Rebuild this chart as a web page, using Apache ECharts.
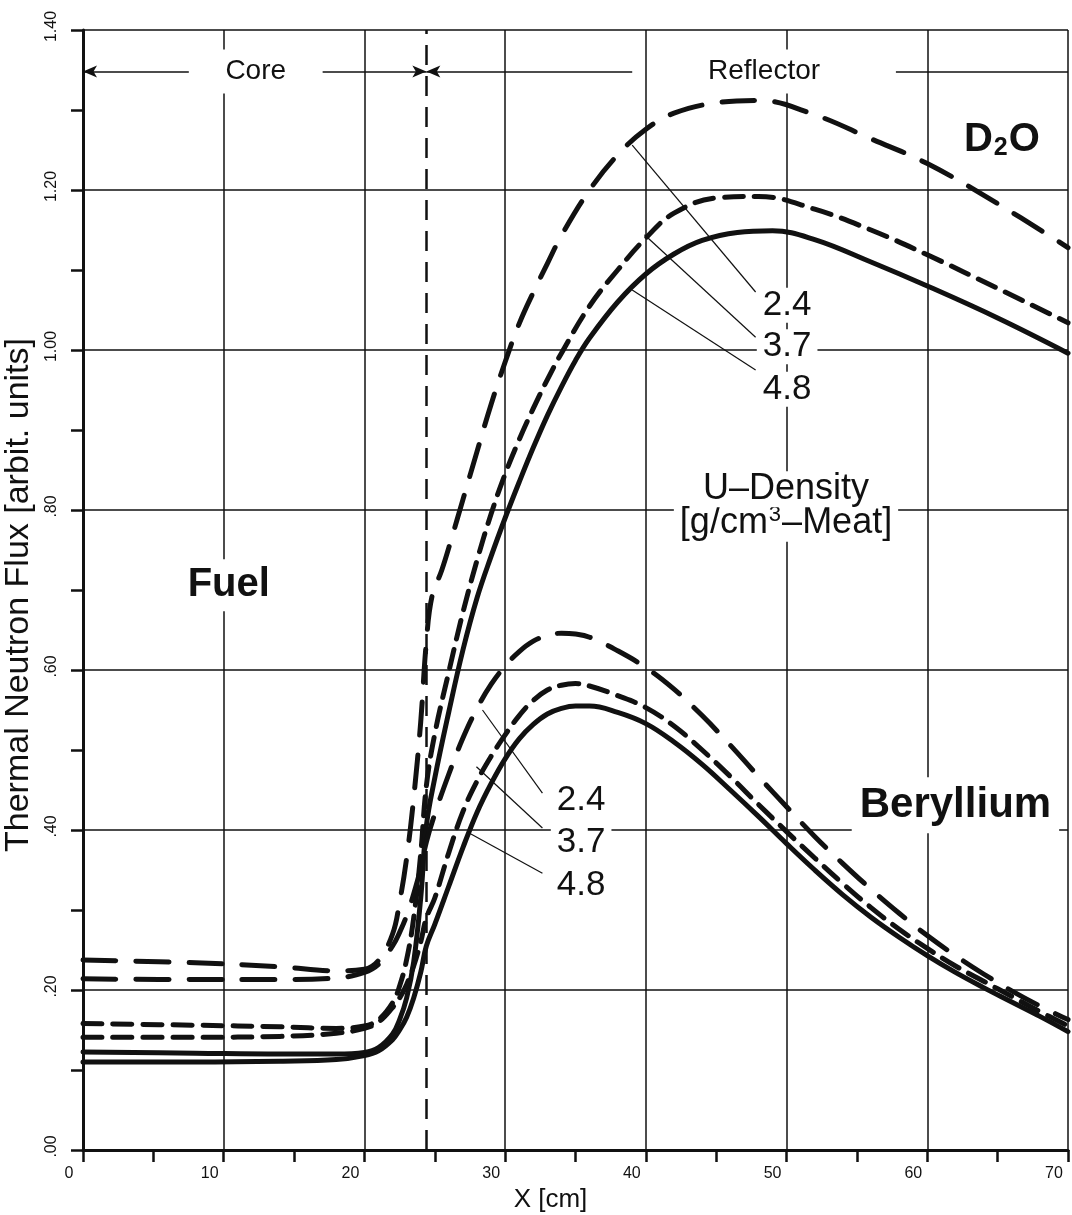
<!DOCTYPE html>
<html><head><meta charset="utf-8">
<script src="https://cdn.jsdelivr.net/npm/echarts@6/dist/echarts.min.js"></script>
<style>html,body{margin:0;padding:0;background:#fff}#c{width:1072px;height:1215px}</style>
</head><body><div id="c"></div>
<script>
// ---- values (x in cm, thermal flux in arbitrary units) ----
const d2o24 = [[0,0.2375],[8,0.234],[14,0.229],[18,0.224],[20,0.226],[21,0.237],[22,0.27],[22.5,0.31],[23,0.365],[23.5,0.44],[24,0.535],[24.4,0.635],[24.8,0.692],[25.5,0.725],[26.2,0.765],[27,0.813],[28,0.873],[29,0.932],[30,0.985],[31,1.033],[32,1.072],[33,1.108],[34,1.143],[36,1.2],[38,1.244],[40,1.276],[42,1.296],[45,1.309],[48,1.312],[52,1.294],[56,1.264],[60,1.233],[65,1.183],[70,1.128]];
const d2o37 = [[0,0.158],[8,0.156],[14,0.154],[18,0.152],[20,0.155],[21,0.163],[22,0.184],[22.5,0.205],[23,0.238],[23.5,0.29],[24,0.37],[24.4,0.455],[25,0.52],[26,0.598],[27,0.672],[28,0.737],[29,0.795],[30,0.845],[31,0.888],[32,0.927],[33,0.963],[34,0.996],[36,1.055],[38,1.1],[40,1.14],[42,1.171],[45,1.19],[48,1.192],[52,1.176],[56,1.15],[60,1.119],[65,1.077],[70,1.034]];
const d2o48 = [[0,0.1225],[8,0.121],[14,0.12],[18,0.12],[20,0.122],[21,0.128],[22,0.145],[22.5,0.163],[23,0.19],[23.5,0.235],[24,0.315],[24.4,0.405],[25,0.465],[26,0.548],[27,0.625],[28,0.69],[29,0.742],[30,0.79],[31,0.835],[32,0.878],[33,0.918],[34,0.954],[35,0.987],[36,1.015],[38,1.06],[40,1.095],[42,1.12],[44,1.137],[46.5,1.147],[49,1.149],[52,1.138],[56,1.11],[60,1.08],[65,1.04],[70,0.996]];
const be24 = [[0,0.214],[8,0.213],[14,0.213],[18,0.215],[20,0.222],[21,0.232],[22,0.255],[22.5,0.272],[23,0.293],[23.5,0.32],[24,0.352],[24.4,0.385],[25,0.42],[26,0.47],[27,0.515],[28,0.552],[29,0.582],[30,0.605],[31,0.623],[32,0.636],[33,0.643],[34,0.646],[35,0.645],[36,0.641],[38,0.624],[40,0.603],[42,0.576],[44,0.543],[46,0.506],[48,0.467],[50,0.429],[52,0.392],[54,0.358],[56,0.326],[58,0.296],[60,0.268],[62,0.243],[64,0.22],[66,0.199],[68,0.18],[70,0.163]];
const be37 = [[0,0.141],[8,0.141],[14,0.142],[18,0.146],[20,0.152],[21,0.16],[22,0.178],[22.5,0.19],[23,0.207],[23.5,0.23],[24,0.26],[24.4,0.29],[25,0.315],[26,0.372],[27,0.423],[28,0.461],[29,0.492],[30,0.519],[31,0.543],[32,0.562],[33,0.575],[34,0.581],[35,0.583],[36,0.58],[38,0.568],[40,0.553],[42,0.53],[44,0.5],[46,0.467],[48,0.432],[50,0.398],[52,0.365],[54,0.333],[56,0.303],[58,0.276],[60,0.252],[62,0.23],[64,0.211],[66,0.192],[68,0.173],[70,0.155]];
const be48 = [[0,0.11],[8,0.11],[14,0.111],[18,0.113],[20,0.118],[21,0.124],[22,0.138],[22.5,0.15],[23,0.166],[23.5,0.19],[24,0.222],[24.4,0.255],[25,0.282],[26,0.33],[27,0.378],[28,0.422],[29,0.458],[30,0.489],[31,0.514],[32,0.532],[33,0.545],[34,0.552],[35,0.555],[36,0.555],[38,0.547],[40,0.533],[42,0.51],[44,0.482],[46,0.45],[48,0.417],[50,0.383],[52,0.35],[54,0.319],[56,0.291],[58,0.266],[60,0.243],[62,0.222],[64,0.203],[66,0.185],[68,0.167],[70,0.148]];

const densityLabels = ['2.4', '3.7', '4.8'];
const coreReflectorBoundary = 24.4;   // cm, where the dashed boundary sits on the grid
const xTicks = {min: 0, max: 70, step: 10};
const yTicks = {min: 0, max: 1.4, step: 0.2};

// annotation anchors in data coordinates
const regionArrowY = 1.348;
const coreArrows = [[0, 7.52], [17.03, coreReflectorBoundary]];
const reflArrows = [[coreReflectorBoundary, 39.03], [57.77, 70]];
const leadersD2O = [[[39.03,1.256],[47.8,1.0725]], [[39.9,1.144],[47.8,1.016]], [[39.03,1.075],[47.8,0.975]]];
const leadersBe  = [[[28.39,0.55],[32.65,0.446]], [[27.96,0.479],[32.65,0.4025]], [[27.47,0.396],[32.65,0.346]]];
const labelPosD2O = [[50.04,1.056],[50.04,1.004],[50.04,0.951]];
const labelPosBe  = [[35.4,0.4375],[35.4,0.385],[35.4,0.331]];

const FONT = '"Liberation Sans", Arial, Helvetica, sans-serif';
const INK = '#111';

const styles = {
  '2.4': {type: [33, 20], cap: 'round'},
  '3.7': {type: [19, 11], cap: 'round'},
  '4.8': {type: 'solid', cap: 'round'}
};
function curve(name, data, dens) {
  return {
    name: name, type: 'line', data: data, showSymbol: false, smooth: 0.4,
    silent: true, animation: false, z: 5,
    lineStyle: Object.assign({color: INK, width: 5, join: 'round'}, styles[dens])
  };
}
function seg(a, b, y, sym) {
  return [{coord: [a, y], symbol: sym[0]}, {coord: [b, y], symbol: sym[1]}];
}

const chart = echarts.init(document.getElementById('c'), null, {renderer: 'canvas'});
chart.setOption({
  backgroundColor: '#fff',
  animation: false,
  grid: {left: 83, right: 4, top: 30, bottom: 65, containLabel: false, outerBoundsMode: 'none'},
  xAxis: {
    type: 'value', min: xTicks.min, max: xTicks.max, interval: xTicks.step,
    name: 'X [cm]', nameLocation: 'middle', nameGap: 32,
    nameTextStyle: {fontFamily: FONT, fontSize: 26, color: INK, padding: [0, 50, 0, 0]},
    axisLine: {show: true, onZero: false, lineStyle: {color: INK, width: 3}},
    axisTick: {show: true, inside: false, length: 12, lineStyle: {color: INK, width: 2.5}},
    minorTick: {show: true, splitNumber: 2, length: 12, lineStyle: {color: INK, width: 2.5}},
    splitLine: {show: true, lineStyle: {color: INK, width: 1.5}},
    axisLabel: {fontFamily: FONT, fontSize: 16, color: INK, margin: 16, padding: [0, 28, 0, 0]}
  },
  yAxis: {
    type: 'value', min: yTicks.min, max: yTicks.max, interval: yTicks.step,
    name: 'Thermal Neutron Flux [arbit. units]', nameLocation: 'middle', nameGap: 35, nameRotate: 90,
    nameTextStyle: {fontFamily: FONT, fontSize: 34, color: INK, padding: [0, 10, 0, 0]},
    axisLine: {show: true, onZero: false, lineStyle: {color: INK, width: 3}},
    axisTick: {show: true, inside: false, length: 12, lineStyle: {color: INK, width: 2.5}},
    minorTick: {show: true, splitNumber: 2, length: 12, lineStyle: {color: INK, width: 2.5}},
    splitLine: {show: true, lineStyle: {color: INK, width: 1.5}},
    axisLabel: {
      fontFamily: FONT, fontSize: 16, color: INK, margin: 23, rotate: 90, padding: [0, 0, 0, 7],
      formatter: function (v) { const s = v.toFixed(2); return v < 1 ? s.slice(1) : s; }
    }
  },
  series: [
    curve('D2O 2.4', d2o24, '2.4'),
    curve('D2O 3.7', d2o37, '3.7'),
    curve('D2O 4.8', d2o48, '4.8'),
    curve('Be 2.4', be24, '2.4'),
    curve('Be 3.7', be37, '3.7'),
    curve('Be 4.8', be48, '4.8'),
    {
      type: 'line', data: [], silent: true, animation: false, z: 3,
      markLine: {
        silent: true, animation: false, symbol: 'none', label: {show: false},
        lineStyle: {color: INK, width: 2.5, type: [20, 11]},
        data: [{xAxis: coreReflectorBoundary}]
      }
    },
    {
      type: 'line', data: [], silent: true, animation: false, z: 3,
      markLine: {
        silent: true, animation: false, label: {show: false}, symbolSize: [9, 14],
        lineStyle: {color: INK, width: 1.5, type: 'solid'},
        data: [
          seg(coreArrows[0][0], coreArrows[0][1], regionArrowY, ['arrow', 'none']),
          seg(coreArrows[1][0], coreArrows[1][1], regionArrowY, ['none', 'arrow']),
          seg(reflArrows[0][0], reflArrows[0][1], regionArrowY, ['arrow', 'none']),
          seg(reflArrows[1][0], reflArrows[1][1], regionArrowY, ['none', 'none'])
        ]
      }
    },
    {
      type: 'line', data: [], silent: true, animation: false, z: 4,
      markLine: {
        silent: true, animation: false, label: {show: false}, symbol: 'none',
        lineStyle: {color: INK, width: 1.2, type: 'solid'},
        data: leadersD2O.concat(leadersBe).map(function (p) { return [{coord: p[0]}, {coord: p[1]}]; })
      }
    }
  ]
});

function px(p) { return chart.convertToPixel({xAxisIndex: 0, yAxisIndex: 0}, p); }
function txt(p, text, size, bold, pad, extra, z) {
  const q = px(p);
  return {
    type: 'text', x: q[0], y: q[1], z: z || 10, silent: true,
    style: Object.assign({
      text: text, fontFamily: FONT, fontSize: size, fontWeight: bold ? 'bold' : 'normal',
      fill: INK, align: 'center', verticalAlign: 'middle',
      backgroundColor: '#fff', padding: pad
    }, extra || {})
  };
}
const g = [];
g.push(txt([(coreArrows[0][1] + coreArrows[1][0]) / 2, regionArrowY], 'Core', 28, false, [8, 8]));
g.push(txt([(reflArrows[0][1] + reflArrows[1][0]) / 2, regionArrowY], 'Reflector', 28, false, [8, 8]));
g.push(txt([10.36, 0.706], 'Fuel', 40, true, [6, 6]));
g.push(txt([62.0, 0.431], 'Beryllium', 42, true, [7, 8]));
g.push(txt([49.96, 0.784], '{t|[g/cm}{s|3}{t|–Meat]}', 36, false, [0, 6], {
  rich: {
    t: {fontFamily: FONT, fontSize: 36, fill: INK},
    s: {fontFamily: FONT, fontSize: 22, fill: INK, padding: [0, 1, 16, 1]}
  }
}, 10));
g.push(txt([49.96, 0.826], 'U–Density', 36, false, [0, 6], null, 11));
g.push(txt([65.3, 1.2625], '{a|D}{b|2}{a|O}', 40, true, [4, 4], {
  rich: {
    a: {fontFamily: FONT, fontSize: 40, fontWeight: 'bold', fill: INK},
    b: {fontFamily: FONT, fontSize: 25, fontWeight: 'bold', fill: INK, padding: [16, 1, 0, 1]}
  }
}));
densityLabels.forEach(function (d, i) {
  g.push(txt(labelPosD2O[i], d, 35, false, [0, 6]));
  g.push(txt(labelPosBe[i], d, 35, false, [0, 6]));
});
chart.setOption({graphic: {elements: g}});
</script>
</body></html>
